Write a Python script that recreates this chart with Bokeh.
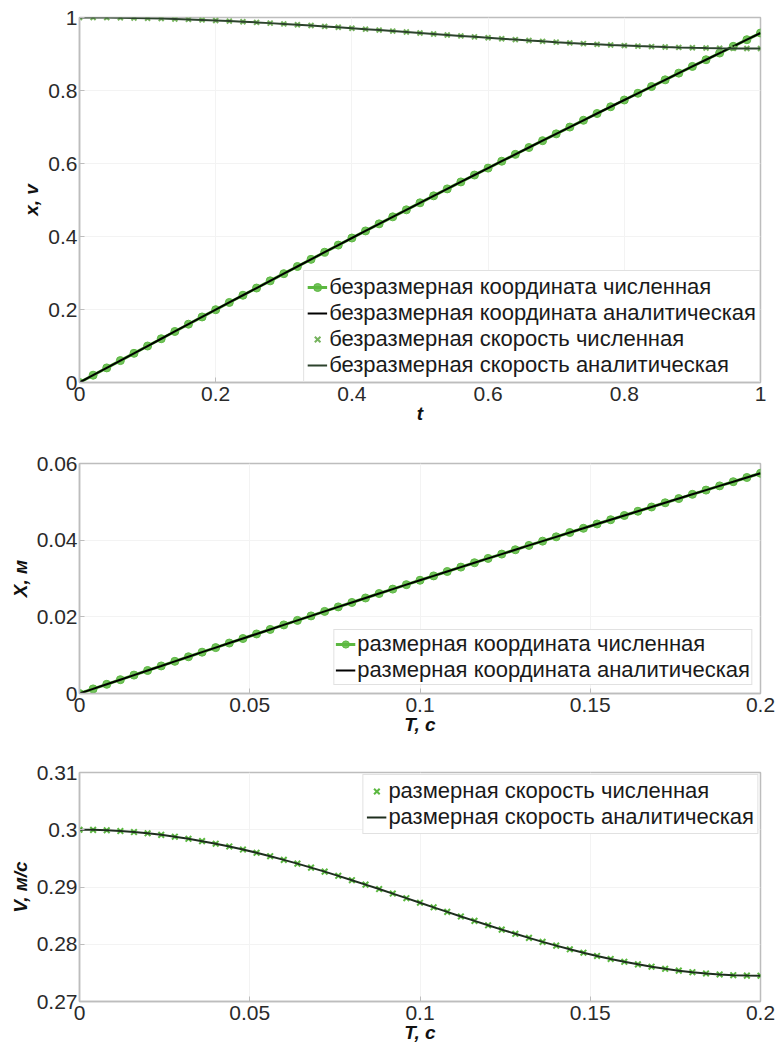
from bokeh.plotting import figure
from bokeh.layouts import column
from bokeh.models import Range1d, FixedTicker, Legend, LegendItem
from bokeh.embed import file_html
from bokeh.resources import INLINE

# ---------------- data ----------------
t_dimless = [0.00, 0.02, 0.04, 0.06, 0.08, 0.10, 0.12, 0.14, 0.16, 0.18, 0.20,
             0.22, 0.24, 0.26, 0.28, 0.30, 0.32, 0.34, 0.36, 0.38, 0.40,
             0.42, 0.44, 0.46, 0.48, 0.50, 0.52, 0.54, 0.56, 0.58, 0.60,
             0.62, 0.64, 0.66, 0.68, 0.70, 0.72, 0.74, 0.76, 0.78, 0.80,
             0.82, 0.84, 0.86, 0.88, 0.90, 0.92, 0.94, 0.96, 0.98, 1.00]
x_dimless = [0.00000, 0.02000, 0.04000, 0.05998, 0.07996, 0.09993, 0.11988, 0.13981, 0.15972, 0.17960, 0.19945,
             0.21927, 0.23906, 0.25881, 0.27852, 0.29819, 0.31782, 0.33740, 0.35694, 0.37643, 0.39587,
             0.41525, 0.43459, 0.45387, 0.47310, 0.49228, 0.51140, 0.53047, 0.54949, 0.56845, 0.58737,
             0.60623, 0.62504, 0.64381, 0.66252, 0.68119, 0.69982, 0.71841, 0.73696, 0.75547, 0.77395,
             0.79240, 0.81082, 0.82921, 0.84758, 0.86593, 0.88426, 0.90259, 0.92090, 0.93920, 0.95750]
v_dimless = [1.00000, 0.99992, 0.99966, 0.99925, 0.99866, 0.99792, 0.99702, 0.99596, 0.99474, 0.99338, 0.99188,
             0.99025, 0.98848, 0.98659, 0.98459, 0.98248, 0.98027, 0.97797, 0.97560, 0.97315, 0.97063,
             0.96807, 0.96546, 0.96283, 0.96017, 0.95750, 0.95483, 0.95217, 0.94954, 0.94693, 0.94437,
             0.94185, 0.93940, 0.93703, 0.93473, 0.93252, 0.93041, 0.92841, 0.92652, 0.92475, 0.92312,
             0.92162, 0.92026, 0.91904, 0.91798, 0.91708, 0.91634, 0.91575, 0.91534, 0.91508, 0.91500]

T_time = [0.000, 0.004, 0.008, 0.012, 0.016, 0.020, 0.024, 0.028, 0.032, 0.036, 0.040,
          0.044, 0.048, 0.052, 0.056, 0.060, 0.064, 0.068, 0.072, 0.076, 0.080,
          0.084, 0.088, 0.092, 0.096, 0.100, 0.104, 0.108, 0.112, 0.116, 0.120,
          0.124, 0.128, 0.132, 0.136, 0.140, 0.144, 0.148, 0.152, 0.156, 0.160,
          0.164, 0.168, 0.172, 0.176, 0.180, 0.184, 0.188, 0.192, 0.196, 0.200]
X_coord = [0.00000, 0.00120, 0.00240, 0.00360, 0.00480, 0.00600, 0.00719, 0.00839, 0.00958, 0.01078, 0.01197,
           0.01316, 0.01434, 0.01553, 0.01671, 0.01789, 0.01907, 0.02024, 0.02142, 0.02259, 0.02375,
           0.02492, 0.02608, 0.02723, 0.02839, 0.02954, 0.03068, 0.03183, 0.03297, 0.03411, 0.03524,
           0.03637, 0.03750, 0.03863, 0.03975, 0.04087, 0.04199, 0.04310, 0.04422, 0.04533, 0.04644,
           0.04754, 0.04865, 0.04975, 0.05085, 0.05196, 0.05306, 0.05416, 0.05525, 0.05635, 0.05745]
V_speed = [0.30000, 0.29998, 0.29990, 0.29978, 0.29960, 0.29938, 0.29911, 0.29879, 0.29842, 0.29801, 0.29756,
           0.29708, 0.29654, 0.29598, 0.29538, 0.29474, 0.29408, 0.29339, 0.29268, 0.29195, 0.29119,
           0.29042, 0.28964, 0.28885, 0.28805, 0.28725, 0.28645, 0.28565, 0.28486, 0.28408, 0.28331,
           0.28256, 0.28182, 0.28111, 0.28042, 0.27976, 0.27912, 0.27852, 0.27796, 0.27743, 0.27694,
           0.27649, 0.27608, 0.27571, 0.27539, 0.27512, 0.27490, 0.27473, 0.27460, 0.27452, 0.27450]

ticks_t = [0, 0.2, 0.4, 0.6, 0.8, 1]
ticks_t_labels = ["0", "0.2", "0.4", "0.6", "0.8", "1"]
ticks_xv = [0, 0.2, 0.4, 0.6, 0.8, 1]
ticks_xv_labels = ["0", "0.2", "0.4", "0.6", "0.8", "1"]
ticks_T = [0, 0.05, 0.1, 0.15, 0.2]
ticks_T_labels = ["0", "0.05", "0.1", "0.15", "0.2"]
ticks_X = [0, 0.02, 0.04, 0.06]
ticks_X_labels = ["0", "0.02", "0.04", "0.06"]
ticks_V = [0.27, 0.28, 0.29, 0.3, 0.31]
ticks_V_labels = ["0.27", "0.28", "0.29", "0.3", "0.31"]

leg1 = ["безразмерная координата численная", "безразмерная координата аналитическая",
        "безразмерная скорость численная", "безразмерная скорость аналитическая"]
leg2 = ["размерная координата численная", "размерная координата аналитическая"]
leg3 = ["размерная скорость численная", "размерная скорость аналитическая"]

# ---------------- styling ----------------
FONT = "Liberation Sans"
FRAME = "#bdbdbd"
TXT = "#2a2a2a"
GREEN = "#5cb841"
XGREEN = "#76b35e"
VLINE = "#2c432c"
W = 779


def make_fig(xr, yr, xt, xtl, yt, ytl, height, top, bottom, xlabel, ylabel):
    p = figure(width=W, height=height, output_backend="svg", toolbar_location=None,
               x_range=Range1d(*xr), y_range=Range1d(*yr),
               min_border_left=79, min_border_right=19,
               min_border_top=top, min_border_bottom=bottom,
               x_axis_label=xlabel, y_axis_label=ylabel)
    p.background_fill_color = "white"
    p.border_fill_color = "white"
    p.outline_line_color = FRAME
    p.outline_line_width = 1.5
    p.xgrid.grid_line_color = "#f3f3f3"
    p.ygrid.grid_line_color = "#f3f3f3"
    p.xaxis.ticker = FixedTicker(ticks=xt)
    p.yaxis.ticker = FixedTicker(ticks=yt)
    p.xgrid.ticker = FixedTicker(ticks=xt)
    p.ygrid.ticker = FixedTicker(ticks=yt)
    p.xaxis.major_label_overrides = {v: s for v, s in zip(xt, xtl)}
    p.yaxis.major_label_overrides = {v: s for v, s in zip(yt, ytl)}
    for ax in (p.xaxis[0], p.yaxis[0]):
        ax.axis_line_color = FRAME
        ax.axis_line_width = 1.5
        ax.major_tick_line_color = FRAME
        ax.major_tick_in = 5
        ax.major_tick_out = 0
        ax.minor_tick_line_color = None
        ax.major_label_text_font = FONT
        ax.major_label_text_font_size = "21px"
        ax.major_label_text_color = TXT
        ax.axis_label_text_font = FONT
        ax.axis_label_text_font_size = "19px"
        ax.axis_label_text_font_style = "bold italic"
        ax.axis_label_text_color = "#111111"
    p.xaxis.major_label_standoff = 4
    p.xaxis.axis_label_standoff = -1
    p.yaxis.major_label_standoff = 2
    p.yaxis.axis_label_standoff = 3
    return p


def style_legend(lg, fs="22px", lh=22):
    lg.label_text_font = FONT
    lg.label_text_font_size = fs
    lg.label_text_color = "#1a1a1a"
    lg.glyph_width = 20
    lg.glyph_height = lh
    lg.label_height = lh
    lg.label_standoff = 2
    lg.spacing = 0
    lg.padding = 3
    lg.border_line_color = "#c4c4c4"
    lg.border_line_width = 1
    lg.background_fill_color = "white"
    lg.background_fill_alpha = 1.0


# ---------------- panel 1 ----------------
p1 = make_fig((0, 1), (0, 1), ticks_t, ticks_t_labels, ticks_xv, ticks_xv_labels,
              430, 17, 48, "t", "x, v")
r1l = p1.line(t_dimless, x_dimless, line_color=GREEN, line_width=3)
r1m = p1.scatter(t_dimless, x_dimless, marker="circle", size=8, fill_color=GREEN,
                 line_color=GREEN, fill_alpha=0.85)
r2 = p1.line(t_dimless, x_dimless, line_color="black", line_width=2)
r3 = p1.scatter(t_dimless, v_dimless, marker="x", size=7, line_color=XGREEN, line_width=2)
r4 = p1.line(t_dimless, v_dimless, line_color=VLINE, line_width=2)
lg1 = Legend(items=[LegendItem(label=leg1[0], renderers=[r1l, r1m]),
                    LegendItem(label=leg1[1], renderers=[r2]),
                    LegendItem(label=leg1[2], renderers=[r3]),
                    LegendItem(label=leg1[3], renderers=[r4])],
             location="bottom_right", margin=0)
style_legend(lg1, "22px", 24)
p1.add_layout(lg1)

# ---------------- panel 2 ----------------
p2 = make_fig((0, 0.2), (0, 0.06), ticks_T, ticks_T_labels, ticks_X, ticks_X_labels,
              311, 33, 48, "T, с", "X, м")
s1l = p2.line(T_time, X_coord, line_color=GREEN, line_width=3)
s1m = p2.scatter(T_time, X_coord, marker="circle", size=8, fill_color=GREEN,
                 line_color=GREEN, fill_alpha=0.85)
s2 = p2.line(T_time, X_coord, line_color="black", line_width=2)
lg2 = Legend(items=[LegendItem(label=leg2[0], renderers=[s1l, s1m]),
                    LegendItem(label=leg2[1], renderers=[s2])],
             location="bottom_right", margin=8)
style_legend(lg2, "22px", 18)
lg2.padding = 1
p2.add_layout(lg2)

# ---------------- panel 3 ----------------
p3 = make_fig((0, 0.2), (0.27, 0.31), ticks_T, ticks_T_labels, ticks_V, ticks_V_labels,
              307, 31, 47, "T, с", "V, м/с")
q1 = p3.scatter(T_time, V_speed, marker="x", size=8, line_color=GREEN, line_width=2)
q2 = p3.line(T_time, V_speed, line_color="#1e2e1e", line_width=2)
lg3 = Legend(items=[LegendItem(label=leg3[0], renderers=[q1]),
                    LegendItem(label=leg3[1], renderers=[q2])],
             location="top_right", margin=2)
style_legend(lg3, "22px", 22)
p3.add_layout(lg3)

layout = column(p1, p2, p3, spacing=0)
open("out.html", "w").write(file_html(layout, INLINE))
